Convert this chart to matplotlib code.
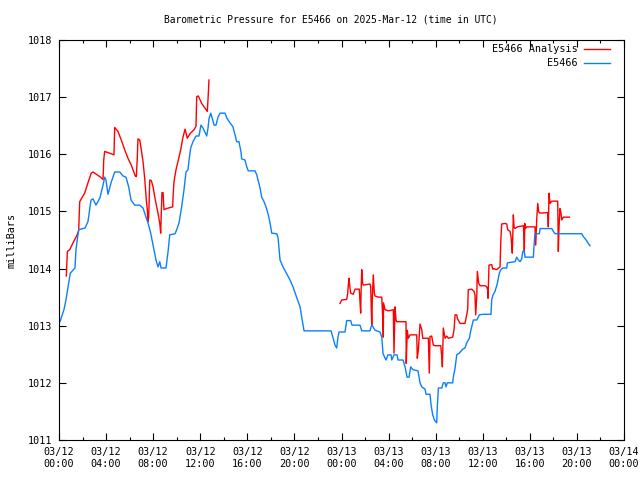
# Barometric pressure for station E5466: observations vs analysis
import matplotlib
matplotlib.use('Agg')
import matplotlib.pyplot as plt
from matplotlib.ticker import MultipleLocator

plt.rcParams['font.family'] = 'DejaVu Sans Mono'

# hours after 2025-03-12 00:00 UTC
obs_hours = [0.08, 0.42, 0.59, 0.96, 1.36, 1.44, 1.67, 2.21, 2.46, 2.72, 2.89, 3.14, 3.48, 3.74,
             3.88, 3.99, 4.16, 4.42, 4.73, 5.16, 5.44, 5.69, 5.92, 6.12, 6.43, 6.86, 7.14, 7.39,
             7.56, 7.79, 7.99, 8.24, 8.41, 8.56, 8.67, 9.09, 9.26, 9.41, 9.86, 10.00, 10.20, 10.42,
             10.62, 10.79, 10.96, 11.05, 11.19, 11.38, 11.64, 11.89, 12.06, 12.23, 12.55, 12.66,
             12.74, 12.89, 13.06, 13.17, 13.34, 13.51, 13.68, 14.10, 14.27, 14.53, 14.78, 14.95,
             15.10, 15.29, 15.46, 15.52, 15.80, 15.95, 16.08, 16.65, 16.80, 16.91, 17.08, 17.22,
             17.42, 17.59, 17.78, 17.93, 18.07, 18.50, 18.61, 18.69, 18.78, 19.03, 19.63, 19.88,
             20.20, 20.48, 20.62, 20.82, 23.11, 23.25, 23.45, 23.59, 23.70, 23.79, 24.30, 24.44,
             24.78, 24.89, 25.57, 25.72, 26.42, 26.51, 26.59, 26.85, 27.27, 27.42, 27.53, 27.78,
             27.95, 28.21, 28.27, 28.46, 28.72, 28.80, 29.23, 29.40, 29.57, 29.74, 29.88, 30.08,
             30.50, 30.67, 30.82, 31.10, 31.18, 31.52, 31.61, 31.75, 31.89, 32.09, 32.14, 32.23,
             32.52, 32.65, 32.80, 32.88, 32.99, 33.45, 33.50, 33.65, 33.79, 34.01, 34.30, 34.49,
             34.64, 34.86, 34.98, 35.20, 35.49, 35.71, 36.02, 36.70, 36.76, 36.87, 37.04, 37.24,
             37.41, 37.53, 37.70, 38.04, 38.09, 38.74, 38.89, 39.02, 39.17, 39.31, 39.40, 39.53,
             39.59, 40.30, 40.36, 40.44, 40.81, 40.87, 41.86, 42.00, 42.14, 44.41, 44.55, 44.78,
             44.97, 45.11]
obs_mb = [1013.07, 1013.28, 1013.45, 1013.92, 1014.01, 1014.33, 1014.68, 1014.71, 1014.82, 1015.20,
          1015.22, 1015.11, 1015.24, 1015.46, 1015.60, 1015.55, 1015.30, 1015.50, 1015.69, 1015.69,
          1015.62, 1015.60, 1015.43, 1015.20, 1015.11, 1015.11, 1015.06, 1014.90, 1014.80, 1014.62,
          1014.41, 1014.15, 1014.03, 1014.12, 1014.01, 1014.01, 1014.29, 1014.59, 1014.61, 1014.68,
          1014.80, 1015.08, 1015.38, 1015.69, 1015.73, 1015.90, 1016.11, 1016.22, 1016.32, 1016.32,
          1016.51, 1016.46, 1016.32, 1016.46, 1016.62, 1016.72, 1016.60, 1016.51, 1016.51, 1016.65,
          1016.72, 1016.72, 1016.63, 1016.55, 1016.48, 1016.34, 1016.22, 1016.22, 1016.04, 1015.92,
          1015.90, 1015.78, 1015.71, 1015.71, 1015.64, 1015.55, 1015.41, 1015.25, 1015.17, 1015.08,
          1014.94, 1014.80, 1014.62, 1014.61, 1014.54, 1014.36, 1014.15, 1014.03, 1013.80, 1013.68,
          1013.49, 1013.33, 1013.15, 1012.91, 1012.91, 1012.81, 1012.66, 1012.61, 1012.80, 1012.89,
          1012.89, 1013.09, 1013.09, 1013.01, 1013.01, 1012.91, 1012.91, 1012.98, 1013.01, 1012.92,
          1012.89, 1012.80, 1012.51, 1012.40, 1012.49, 1012.49, 1012.40, 1012.49, 1012.49, 1012.40,
          1012.40, 1012.28, 1012.10, 1012.10, 1012.28, 1012.23, 1012.21, 1012.00, 1011.93, 1011.89,
          1011.80, 1011.80, 1011.61, 1011.44, 1011.35, 1011.30, 1011.58, 1011.91, 1011.91, 1012.00,
          1012.00, 1011.93, 1012.00, 1012.00, 1012.10, 1012.26, 1012.49, 1012.52, 1012.59, 1012.61,
          1012.70, 1012.78, 1012.91, 1013.10, 1013.10, 1013.19, 1013.20, 1013.20, 1013.45, 1013.54,
          1013.60, 1013.74, 1013.92, 1013.98, 1014.01, 1014.01, 1014.10, 1014.12, 1014.20, 1014.15,
          1014.12, 1014.17, 1014.30, 1014.30, 1014.20, 1014.20, 1014.41, 1014.61, 1014.61, 1014.70,
          1014.70, 1014.65, 1014.61, 1014.61, 1014.56, 1014.50, 1014.44, 1014.40]

# analysis comes in two pieces with a gap in between
ana1_hours = [0.62, 0.71, 0.91, 1.19, 1.47, 1.67, 1.76, 1.95, 2.18, 2.46, 2.74, 2.89, 3.17, 3.46,
              3.74, 3.80, 3.88, 4.16, 4.67, 4.73, 5.01, 5.29, 5.58, 5.86, 6.14, 6.48, 6.57, 6.65,
              6.71, 6.86, 6.99, 7.14, 7.28, 7.42, 7.50, 7.56, 7.62, 7.71, 7.84, 7.99, 8.13, 8.27,
              8.41, 8.56, 8.64, 8.69, 8.75, 8.84, 8.92, 9.12, 9.66, 9.69, 9.77, 9.94, 10.14, 10.34,
              10.51, 10.71, 10.90, 11.13, 11.47, 11.64, 11.70, 11.84, 12.12, 12.40, 12.60, 12.68,
              12.74]
ana1_mb = [1013.87, 1014.30, 1014.33, 1014.45, 1014.56, 1014.66, 1015.17, 1015.24, 1015.32, 1015.50,
           1015.67, 1015.69, 1015.65, 1015.61, 1015.56, 1015.90, 1016.05, 1016.03, 1015.99, 1016.47,
           1016.40, 1016.25, 1016.08, 1015.93, 1015.81, 1015.62, 1015.61, 1015.93, 1016.27, 1016.25,
           1016.08, 1015.87, 1015.58, 1015.20, 1015.03, 1014.82, 1014.91, 1015.55, 1015.54, 1015.43,
           1015.26, 1015.11, 1014.97, 1014.79, 1014.62, 1014.97, 1015.33, 1015.33, 1015.03, 1015.05,
           1015.08, 1015.26, 1015.52, 1015.73, 1015.90, 1016.08, 1016.28, 1016.44, 1016.28, 1016.36,
           1016.43, 1016.49, 1017.01, 1017.02, 1016.89, 1016.81, 1016.75, 1017.04, 1017.30]

ana2_hours = [23.87, 24.02, 24.44, 24.53, 24.58, 24.64, 24.72, 24.78, 25.00, 25.15, 25.51, 25.57,
              25.63, 25.66, 25.72, 25.80, 25.85, 26.42, 26.48, 26.57, 26.62, 26.70, 26.79, 26.85,
              27.13, 27.42, 27.50, 27.55, 27.57, 27.70, 27.98, 28.40, 28.46, 28.55, 28.63, 28.69,
              29.48, 29.50, 29.59, 29.68, 29.82, 30.39, 30.44, 30.53, 30.67, 30.82, 30.90, 31.38,
              31.46, 31.52, 31.66, 31.80, 31.95, 32.43, 32.52, 32.57, 32.65, 32.80, 32.94, 33.08,
              33.45, 33.56, 33.65, 33.79, 33.84, 34.07, 34.49, 34.58, 34.72, 34.77, 35.06, 35.26,
              35.34, 35.40, 35.49, 35.54, 35.66, 35.77, 36.19, 36.34, 36.42, 36.45, 36.53, 36.76,
              36.85, 36.96, 37.13, 37.24, 37.47, 37.53, 37.61, 37.89, 38.04, 38.12, 38.32, 38.40,
              38.46, 38.51, 38.60, 38.66, 38.74, 38.94, 39.45, 39.51, 39.53, 39.57, 39.62, 39.74,
              40.44, 40.50, 40.59, 40.67, 40.76, 40.87, 41.52, 41.57, 41.63, 41.72, 41.86, 42.37,
              42.42, 42.48, 42.56, 42.65, 42.71, 42.85, 43.36]
ana2_mb = [1013.39, 1013.45, 1013.46, 1013.57, 1013.71, 1013.83, 1013.66, 1013.57, 1013.55, 1013.64,
           1013.64, 1013.42, 1013.22, 1013.57, 1013.98, 1013.74, 1013.71, 1013.73, 1013.68, 1013.01,
           1013.48, 1013.89, 1013.57, 1013.52, 1013.50, 1013.50, 1013.16, 1012.80, 1013.40, 1013.28,
           1013.26, 1013.28, 1012.52, 1013.33, 1013.10, 1013.07, 1013.07, 1012.34, 1012.92, 1012.78,
           1012.84, 1012.84, 1012.43, 1012.58, 1013.03, 1012.93, 1012.78, 1012.78, 1012.17, 1012.81,
           1012.82, 1012.66, 1012.65, 1012.65, 1012.46, 1012.28, 1012.96, 1012.78, 1012.82, 1012.78,
           1012.80, 1012.93, 1013.19, 1013.19, 1013.13, 1013.04, 1013.04, 1013.13, 1013.28, 1013.63,
           1013.64, 1013.60, 1013.54, 1013.19, 1013.51, 1013.95, 1013.74, 1013.70, 1013.70, 1013.68,
           1013.63, 1013.48, 1014.06, 1014.07, 1013.99, 1014.00, 1013.98, 1013.99, 1014.03, 1014.47,
           1014.78, 1014.79, 1014.78, 1014.68, 1014.65, 1014.56, 1014.41, 1014.27, 1014.94, 1014.73,
           1014.70, 1014.73, 1014.75, 1014.50, 1014.31, 1014.79, 1014.70, 1014.73, 1014.73, 1014.41,
           1014.88, 1015.14, 1014.99, 1014.97, 1014.98, 1014.73, 1015.32, 1015.14, 1015.18, 1015.18,
           1014.30, 1014.73, 1015.05, 1014.97, 1014.85, 1014.90, 1014.90]

tick_hours = [0, 4, 8, 12, 16, 20, 24, 28, 32, 36, 40, 44, 48]
tick_labels = ['03/12\n00:00', '03/12\n04:00', '03/12\n08:00', '03/12\n12:00', '03/12\n16:00',
               '03/12\n20:00', '03/13\n00:00', '03/13\n04:00', '03/13\n08:00', '03/13\n12:00',
               '03/13\n16:00', '03/13\n20:00', '03/14\n00:00']

fig = plt.figure(figsize=(6.4, 4.8), dpi=100)
ax = fig.add_axes([59 / 640, 40 / 480, 565 / 640, 400 / 480])

red = '#ff0000'
blue = '#0a80ff'
ax.plot(ana1_hours, ana1_mb, color=red, lw=1, label='E5466 Analysis')
ax.plot(ana2_hours, ana2_mb, color=red, lw=1)
ax.plot(obs_hours, obs_mb, color=blue, lw=1, label='E5466')

ax.set_xlim(0, 48)
ax.set_ylim(1011, 1018)
ax.set_xticks(tick_hours)
ax.set_xticklabels(tick_labels)
ax.xaxis.set_minor_locator(MultipleLocator(2))
ax.set_yticks(range(1011, 1019))
ax.tick_params(which='both', direction='in', top=True, right=True, labelsize=7.3, width=0.8)
ax.tick_params(which='major', length=5, pad=5)
ax.tick_params(which='minor', length=2.5)
for s in ax.spines.values():
    s.set_linewidth(0.8)

ax.set_ylabel('milliBars', fontsize=7.3, labelpad=8)
fig.text(331 / 640, 1 - 19 / 480, 'Barometric Pressure for E5466 on 2025-Mar-12 (time in UTC)',
         ha='center', va='center', fontsize=6.9)

ax.legend(loc='upper right', bbox_to_anchor=(0.976, 0.989), frameon=False, markerfirst=False,
          fontsize=7.3, handlelength=2.6, handletextpad=0.6, labelspacing=0.4,
          borderaxespad=0, borderpad=0)

fig.savefig('out.png', dpi=100)
